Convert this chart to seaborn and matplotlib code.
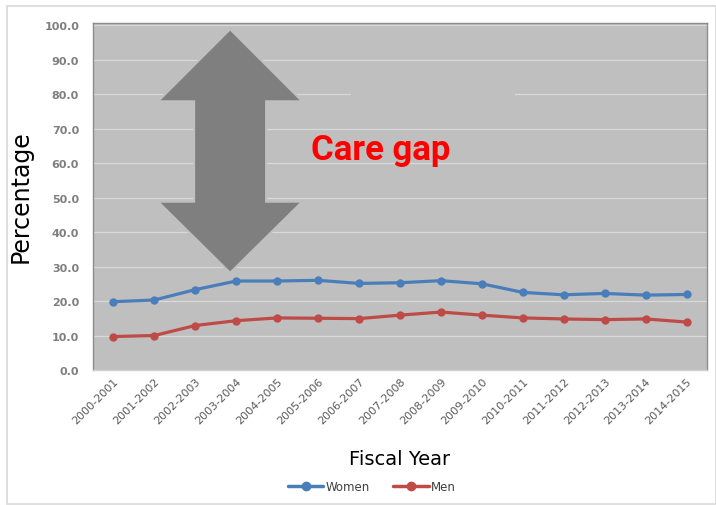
import matplotlib
matplotlib.use("Agg")
import matplotlib.pyplot as plt
from matplotlib.patches import Polygon, Rectangle
from matplotlib.lines import Line2D
import seaborn as sns
import pandas as pd

years = ["2000-2001", "2001-2002", "2002-2003", "2003-2004", "2004-2005",
         "2005-2006", "2006-2007", "2007-2008", "2008-2009", "2009-2010",
         "2010-2011", "2011-2012", "2012-2013", "2013-2014", "2014-2015"]
women = [19.8, 20.3, 23.3, 25.8, 25.8, 26.0, 25.1, 25.3, 25.9, 25.0,
         22.5, 21.8, 22.2, 21.7, 21.9]
men = [9.7, 10.0, 12.9, 14.3, 15.1, 15.0, 14.9, 15.9, 16.8, 15.9,
       15.1, 14.8, 14.6, 14.8, 13.9]
series_names = ["Women", "Men"]
colors = ["#4a7ebb", "#be4b48"]
yticks = [0, 10, 20, 30, 40, 50, 60, 70, 80, 90, 100]

df = pd.DataFrame({
    "year": years * 2,
    "value": women + men,
    "sex": [series_names[0]] * len(years) + [series_names[1]] * len(years),
})

sns.set_theme(style="white")
plt.rcParams["font.family"] = ["DejaVu Sans"]

W, H = 716, 506
fig = plt.figure(figsize=(W / 100, H / 100), dpi=100)
# outer chart frame
fig.patches.append(Rectangle((7 / W, 0.002), 1 - 7 / W, 1 - 7 / H - 0.002,
                             transform=fig.transFigure, fill=False,
                             edgecolor="#d9d9d9", linewidth=1.2))

ax = fig.add_axes([93 / W, (H - 371) / H, (707 - 93) / W, (371 - 24) / H])
ax.set_facecolor("#bfbfbf")

ax.set_xlim(-0.5, len(years) - 0.5)
ax.set_ylim(0, 100.6)
ax.set_yticks(yticks)
ax.set_yticklabels([f"{v:.1f}" for v in yticks], color="#7f7f7f",
                   fontsize=8, fontweight="bold")
for v in yticks[1:]:
    ax.axhline(v, color="#d9d9d9", linewidth=0.9, zorder=1)

# double-headed arrow (in data units)
cx = 2.85
hw, sw = 1.76, 0.88
top_tip, top_base, bot_base, bot_tip = 98.8, 77.9, 48.8, 28.2
arrow = Polygon([
    (cx, top_tip), (cx + hw, top_base), (cx + sw, top_base),
    (cx + sw, bot_base), (cx + hw, bot_base), (cx, bot_tip),
    (cx - hw, bot_base), (cx - sw, bot_base), (cx - sw, top_base),
    (cx - hw, top_base)], closed=True, facecolor="#7f7f7f",
    edgecolor="#bfbfbf", linewidth=1.5, zorder=2)
ax.add_patch(arrow)
# hidden box covering part of the 80 gridline
ax.add_patch(Rectangle((5.8, 78.8), 4.0, 2.4, facecolor="#bfbfbf",
                       edgecolor="none", zorder=1.5))

ax.text(6.52, 64.0, "Care gap", color="#ff0000", fontsize=25,
        fontweight="bold", family=["Roboto", "DejaVu Sans"],
        ha="center", va="center", zorder=3)

sns.lineplot(data=df, x="year", y="value", hue="sex", palette=colors,
             marker="o", markersize=6, markeredgewidth=0, linewidth=2.3,
             sort=False, ax=ax, legend=False, zorder=4)

ax.set_xticks(range(len(years)))
ax.set_xticklabels(years, rotation=45, ha="right", rotation_mode="anchor",
                   fontsize=8, color="#595959")
ax.tick_params(axis="both", length=0, pad=4)
ax.tick_params(axis="y", pad=10)

ax.set_ylabel("")
ax.set_xlabel("Fiscal Year", fontsize=14, color="black", labelpad=17)
fig.text(21 / W, 1 - 197 / H, "Percentage", rotation=90, fontsize=17,
         color="black", ha="center", va="center")

for side in ["left", "top", "right", "bottom"]:
    ax.spines[side].set_visible(True)
    ax.spines[side].set_color("#8c8c8c")
    ax.spines[side].set_linewidth(1)
ax.spines["bottom"].set_color("#d0d0d0")

handles = [Line2D([0], [0], color=c, linewidth=2.5, marker="o", markersize=6)
           for c in colors]
fig.legend(handles, series_names, loc="center", bbox_to_anchor=(372 / W, 1 - 488 / H),
           ncol=2, frameon=False, fontsize=8.5, handlelength=3.0,
           columnspacing=2.0, handletextpad=0.2, labelcolor="#404040")

fig.savefig("out.png", dpi=100)
